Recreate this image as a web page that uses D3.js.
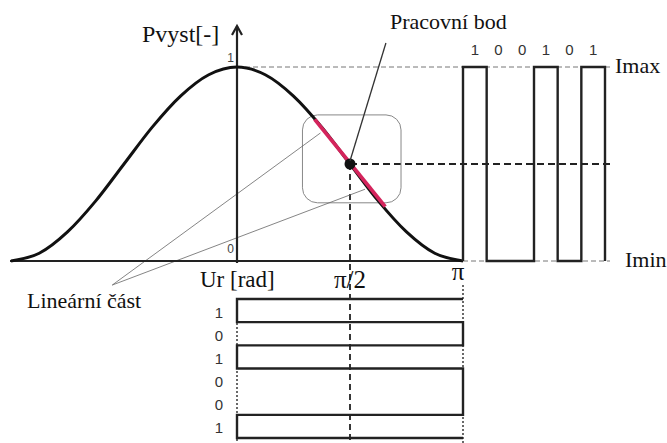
<!DOCTYPE html>
<html>
<head>
<meta charset="UTF-8">
<script src="https://cdn.jsdelivr.net/npm/d3@7"></script>
</head>
<body style="margin:0">
<script>

// transfer curve: phase [rad] -> Pvyst [-]
var phase = [-8, -7, -6, -5, -4, -3, -2, -1, 0, 1, 2, 3, 4, 5, 6, 7, 8].map(function(k) { return k * Math.PI / 8; });
var pOut  = [0, 0.04, 0.15, 0.31, 0.50, 0.69, 0.85, 0.96, 1.00, 0.96, 0.85, 0.69, 0.50, 0.31, 0.15, 0.04, 0];

// linear part (red) and the operating point
var linPhase = [1.08, 2.06];
var linP = [0.73, 0.28];
var opPoint = [Math.PI / 2, 0.5];

// data bits
var bitsTop = [1, 0, 0, 1, 0, 1];
var bitsLeft = [1, 0, 1, 0, 0, 1];

var xTicks = [{v: Math.PI / 2, t: "π/2"}, {v: Math.PI, t: "π"}];

var w = 667, h = 443;
var serif = "Liberation Serif";
var sans = "Liberation Sans";

var svg = d3.select("body").append("svg")
    .attr("width", w)
    .attr("height", h);

var x = d3.scaleLinear().domain([-Math.PI, Math.PI]).range([11, 463]);
var y = d3.scaleLinear().domain([0, 1]).range([261, 67]);
var tTop = d3.scaleLinear().domain([0, bitsTop.length]).range([463, 605]);
var tBot = d3.scaleLinear().domain([0, bitsLeft.length]).range([299, 438]);

// dashed guide lines
svg.append("line")
    .attr("x1", x(0)).attr("x2", 610)
    .attr("y1", y(1)).attr("y2", y(1))
    .attr("stroke", "#777").attr("stroke-width", 1).attr("stroke-dasharray", "5,3");
svg.append("line")
    .attr("x1", x(Math.PI)).attr("x2", 610)
    .attr("y1", y(0)).attr("y2", y(0))
    .attr("stroke", "#777").attr("stroke-width", 1).attr("stroke-dasharray", "5,3");
svg.append("line")
    .attr("x1", x(opPoint[0])).attr("x2", 614)
    .attr("y1", y(opPoint[1])).attr("y2", y(opPoint[1]))
    .attr("stroke", "#222").attr("stroke-width", 1.8).attr("stroke-dasharray", "7,4");
svg.append("line")
    .attr("x1", x(opPoint[0])).attr("x2", x(opPoint[0]))
    .attr("y1", y(opPoint[1])).attr("y2", h)
    .attr("stroke", "#222").attr("stroke-width", 1.8).attr("stroke-dasharray", "6,4");
// dotted verticals at 0 and pi
svg.append("line")
    .attr("x1", x(0)).attr("x2", x(0))
    .attr("y1", tBot(0)).attr("y2", h)
    .attr("stroke", "#444").attr("stroke-width", 1.6).attr("stroke-dasharray", "2,2");
svg.append("line")
    .attr("x1", x(Math.PI)).attr("x2", x(Math.PI))
    .attr("y1", 285).attr("y2", h)
    .attr("stroke", "#444").attr("stroke-width", 1.6).attr("stroke-dasharray", "2,2");

// rounded box around the linear part
svg.append("rect")
    .attr("x", x(0.91)).attr("y", y(0.753))
    .attr("width", x(2.28) - x(0.91))
    .attr("height", y(0.30) - y(0.753))
    .attr("rx", 15)
    .attr("fill", "none").attr("stroke", "#888").attr("stroke-width", 1);

// thin leader lines for "Lineární část"
var leadFrom = [-1.734, -0.124];
var leadTo = [[1.16, 0.66], [1.78, 0.37]];
leadTo.forEach(function(d) {
    svg.append("line")
        .attr("x1", x(leadFrom[0])).attr("y1", y(leadFrom[1]))
        .attr("x2", x(d[0])).attr("y2", y(d[1]))
        .attr("stroke", "#666").attr("stroke-width", 0.8);
});

// axes
svg.append("line")
    .attr("x1", x(-Math.PI) - 1).attr("x2", x(Math.PI))
    .attr("y1", y(0)).attr("y2", y(0))
    .attr("stroke", "#222").attr("stroke-width", 2.2);
svg.append("line")
    .attr("x1", x(0)).attr("x2", x(0))
    .attr("y1", y(0) + 2).attr("y2", 26)
    .attr("stroke", "#222").attr("stroke-width", 2.2);
svg.append("path")
    .attr("d", "M" + (x(0) - 5) + ",35 L" + x(0) + ",26 L" + (x(0) + 5) + ",35")
    .attr("fill", "none").attr("stroke", "#222").attr("stroke-width", 2.2);

// transfer curve
var curve = d3.line()
    .x(function(d, i) { return x(phase[i]); })
    .y(function(d) { return y(d); })
    .curve(d3.curveMonotoneX);
svg.append("path")
    .attr("d", curve(pOut))
    .attr("fill", "none").attr("stroke", "#111").attr("stroke-width", 3);

// red linear part
svg.append("line")
    .attr("x1", x(linPhase[0])).attr("y1", y(linP[0]))
    .attr("x2", x(linPhase[1])).attr("y2", y(linP[1]))
    .attr("stroke", "#d4245c").attr("stroke-width", 3.8);

// operating point
svg.append("circle")
    .attr("cx", x(opPoint[0])).attr("cy", y(opPoint[1]))
    .attr("r", 5.5).attr("fill", "#111");
svg.append("line")
    .attr("x1", x(2.07)).attr("y1", y(1.124))
    .attr("x2", x(opPoint[0])).attr("y2", y(opPoint[1]) - 3)
    .attr("stroke", "#333").attr("stroke-width", 1.3);

// output pulses (time to the right)
function stepPoints(bits, t) {
    var pts = [[t(0), 0]];
    bits.forEach(function(b, i) {
        pts.push([t(i), b]);
        pts.push([t(i + 1), b]);
    });
    pts.push([t(bits.length), 0]);
    return pts;
}
svg.append("path")
    .attr("d", d3.line()
        .x(function(d) { return d[0]; })
        .y(function(d) { return y(d[1]); })(stepPoints(bitsTop, tTop)))
    .attr("fill", "none").attr("stroke", "#222").attr("stroke-width", 2.4);

// input bits (time downwards), 1 -> phase 0, 0 -> phase pi
svg.append("path")
    .attr("d", d3.line()
        .x(function(d) { return x(d[1] ? 0 : Math.PI); })
        .y(function(d) { return d[0]; })(stepPoints(bitsLeft, tBot)))
    .attr("fill", "none").attr("stroke", "#222").attr("stroke-width", 2.4);

// bit labels
svg.selectAll(".bitTop")
    .data(bitsTop)
    .enter()
    .append("text")
    .attr("x", function(d, i) { return tTop(i + 0.5); })
    .attr("y", 55)
    .attr("text-anchor", "middle")
    .attr("font-family", sans)
    .attr("font-size", "15px")
    .attr("fill", "#333")
    .text(function(d) { return d; });

svg.selectAll(".bitLeft")
    .data(bitsLeft)
    .enter()
    .append("text")
    .attr("x", 219)
    .attr("y", function(d, i) { return tBot(i + 0.5) + 7; })
    .attr("text-anchor", "middle")
    .attr("font-family", sans)
    .attr("font-size", "15px")
    .attr("fill", "#333")
    .text(function(d) { return d; });

// axis numbers
[[1, -5], [0, -8]].forEach(function(d) {
    svg.append("text")
        .attr("x", x(0) - 3).attr("y", y(d[0]) + d[1])
        .attr("text-anchor", "end")
        .attr("font-family", sans).attr("font-size", "12px").attr("fill", "#444")
        .text(d[0]);
});

svg.selectAll(".xtick")
    .data(xTicks)
    .enter()
    .append("text")
    .attr("x", function(d) { return x(d.v) - (d.v === Math.PI ? 5 : 0); })
    .attr("y", function(d) { return d.v === Math.PI ? 280 : 288; })
    .attr("text-anchor", "middle")
    .attr("font-family", serif)
    .attr("font-size", "25px")
    .attr("fill", "#111")
    .text(function(d) { return d.t; });

// titles and annotations
function label(t, lx, ly, size) {
    svg.append("text")
        .attr("x", lx).attr("y", ly)
        .attr("font-family", serif)
        .attr("font-size", size)
        .attr("fill", "#111")
        .text(t);
}
label("Pvyst[-]", 142, 42, "24px");
label("Ur [rad]", 200, 287, "23px");
label("Pracovní bod", 390, 29, "22px");
label("Lineární část", 27, 308, "22px");
label("Imax", 615, 73, "22px");
label("Imin", 625, 267, "22px");

</script>
</body>
</html>
